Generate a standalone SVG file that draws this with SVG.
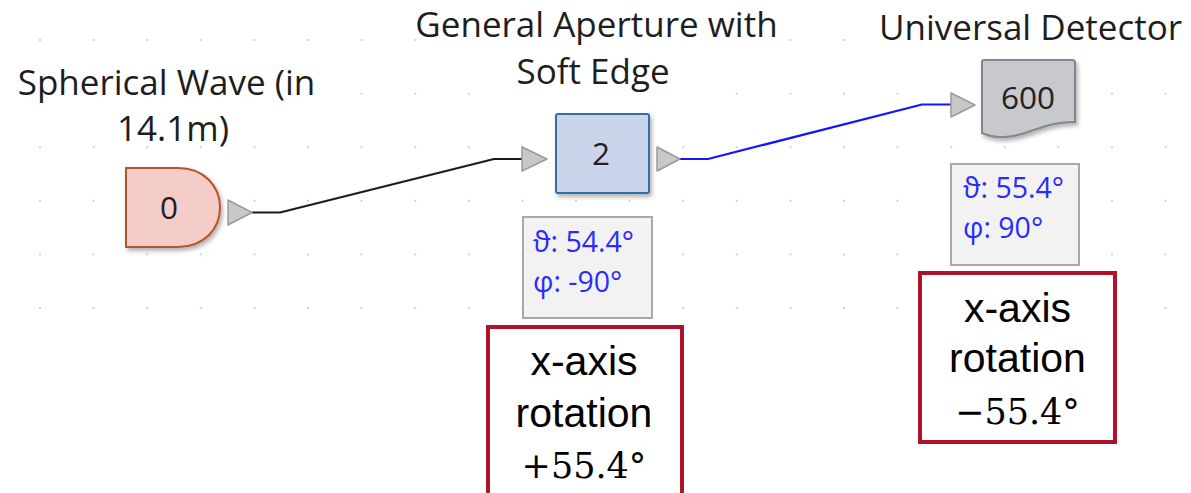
<svg xmlns="http://www.w3.org/2000/svg" width="1191" height="493" viewBox="0 0 1191 493">
<defs>
<style>
.lbl{font-family:"Open Sans","Noto Sans","DejaVu Sans",sans-serif;font-size:35px;fill:#1e1e1e;text-anchor:middle}
.num{font-family:"Open Sans","Noto Sans","DejaVu Sans",sans-serif;font-size:31.5px;fill:#222;text-anchor:middle}
.prop{font-family:"Open Sans","DejaVu Sans",sans-serif;font-size:28.5px;fill:#2b2bff}
.propbox{fill:#f2f2f2;stroke:#a8a8a8;stroke-width:2}
.port{fill:#c8c8c8;stroke:#9a9a9a;stroke-width:1.5;stroke-linejoin:round}
.red{fill:#ffffff;stroke:#b0112b;stroke-width:4}
.note{font-family:"Liberation Sans",Arial,sans-serif;font-size:41px;fill:#000;text-anchor:middle}
.math{font-family:"DejaVu Serif","Liberation Serif",serif;font-size:35px;fill:#000;text-anchor:middle}
.bg{fill:#ffffff}
</style>
<pattern id="grid" x="39" y="39" width="53.6" height="53.6" patternUnits="userSpaceOnUse">
<rect x="0" y="0" width="2" height="2" fill="#d2d2d2"/>
</pattern>
<filter id="shadow" x="-20%" y="-20%" width="140%" height="150%">
<feDropShadow dx="2" dy="3" stdDeviation="2" flood-color="#000" flood-opacity="0.3"/>
</filter>
</defs>
<rect x="0" y="0" width="1191" height="493" fill="#ffffff"/>
<rect x="30" y="30" width="1150" height="285" fill="url(#grid)"/>

<g id="connectors" fill="none" stroke-width="2.2" stroke-linejoin="round">
<path d="M252,212.5 H280 L494,159 H522" stroke="#1a1a1a"/>
<path d="M680,159 H708 L922,104.5 H951" stroke="#1414ff"/>
</g>

<g id="node-spherical-wave">
<rect class="bg" x="10" y="66" width="330" height="34"/>
<rect class="bg" x="112" y="112" width="122" height="33"/>
<text class="lbl" x="166.5" y="95">Spherical Wave (in</text>
<text class="lbl" x="173" y="141">14.1m)</text>
<path d="M126,168 H178 C204,168 220,186 220,207.5 C220,229 204,247 178,247 H126 Z" fill="#f5cdc8" stroke="#b5532b" stroke-width="2" filter="url(#shadow)"/>
<text class="num" x="169" y="218.5">0</text>
<polygon class="port" points="228,200 228,225 252,212.5"/>
</g>

<g id="node-aperture">
<rect class="bg" x="420" y="9" width="356" height="34"/>
<rect class="bg" x="505" y="56" width="190" height="39"/>
<text class="lbl" x="596.5" y="37">General Aperture with</text>
<text class="lbl" x="593" y="84">Soft Edge</text>
<polygon class="port" points="522,147 522,171 547,159"/>
<rect x="556" y="114" width="93" height="79" rx="2" fill="#cad5ec" stroke="#336fa3" stroke-width="2" filter="url(#shadow)"/>
<text class="num" x="601" y="165">2</text>
<polygon class="port" points="657,147 657,171 680,159"/>
<rect class="propbox" x="523" y="217" width="129" height="101"/>
<text class="prop" x="533" y="252">ϑ: 54.4°</text>
<text class="prop" x="533" y="292">φ: -90°</text>
</g>

<g id="node-detector">
<rect class="bg" x="876" y="10" width="310" height="36"/>
<text class="lbl" x="1030.5" y="40">Universal Detector</text>
<polygon class="port" points="951,93 951,117 975,105"/>
<path d="M982,62 Q982,60 984,60 H1072 Q1075,60 1075,63 V122 C1060,121 1045,126 1025,133 C1010,138 995,139 982,133 Z" fill="#c8c9cc" stroke="#7f8790" stroke-width="2" filter="url(#shadow)"/>
<text class="num" x="1028" y="109">600</text>
<rect class="propbox" x="951" y="164" width="128" height="101"/>
<text class="prop" x="963" y="198">ϑ: 55.4°</text>
<text class="prop" x="963" y="238">φ: 90°</text>
</g>

<g id="note-aperture">
<rect class="red" x="488" y="327" width="194" height="180"/>
<text class="note" x="584" y="375">x-axis</text>
<text class="note" x="584" y="427">rotation</text>
<text class="math" x="584" y="478">+55.4°</text>
</g>

<g id="note-detector">
<rect class="red" x="920" y="273" width="195" height="169"/>
<text class="note" x="1017.5" y="322">x-axis</text>
<text class="note" x="1017.5" y="372">rotation</text>
<text class="math" x="1017.5" y="424">−55.4°</text>
</g>
</svg>
